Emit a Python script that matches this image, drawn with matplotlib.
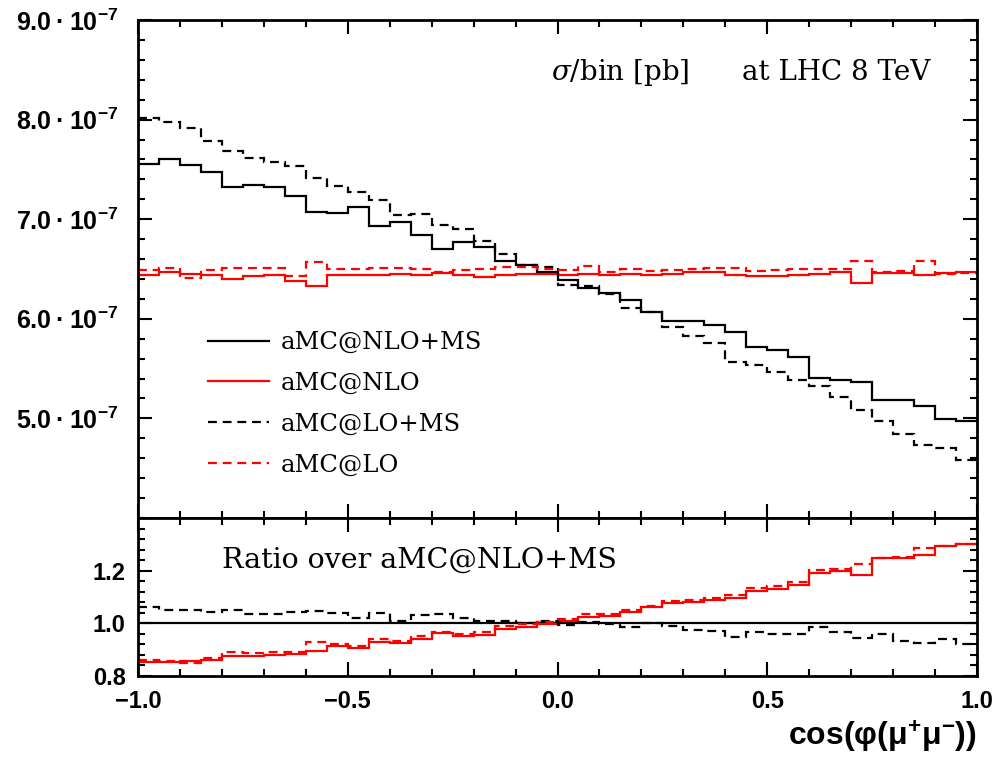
import numpy as np
import matplotlib
matplotlib.use("Agg")
import matplotlib.pyplot as plt
from matplotlib.ticker import MultipleLocator, FixedLocator

# ---- data (units of 1e-7 pb per bin) ----
bin_edges = np.linspace(-1.0, 1.0, 41)

nlo_ms = [7.55, 7.60, 7.54, 7.47, 7.32, 7.34, 7.32, 7.23, 7.07, 7.06,
          7.12, 6.93, 6.97, 6.84, 6.70, 6.77, 6.72, 6.58, 6.54, 6.47,
          6.39, 6.31, 6.26, 6.19, 6.07, 5.98, 5.98, 5.94, 5.87, 5.72,
          5.69, 5.62, 5.41, 5.39, 5.37, 5.18, 5.18, 5.12, 4.99, 4.97]

nlo = [6.44, 6.47, 6.45, 6.44, 6.40, 6.43, 6.44, 6.38, 6.33, 6.44,
       6.44, 6.44, 6.45, 6.44, 6.46, 6.44, 6.42, 6.44, 6.45, 6.45,
       6.44, 6.45, 6.44, 6.45, 6.44, 6.45, 6.47, 6.47, 6.44, 6.43,
       6.43, 6.44, 6.45, 6.47, 6.36, 6.46, 6.46, 6.44, 6.46, 6.47]

lo_ms = [8.02, 7.98, 7.92, 7.79, 7.68, 7.61, 7.57, 7.53, 7.41, 7.33,
         7.27, 7.19, 7.04, 7.05, 6.94, 6.90, 6.78, 6.65, 6.54, 6.52,
         6.34, 6.33, 6.25, 6.11, 6.07, 5.92, 5.83, 5.76, 5.57, 5.54,
         5.47, 5.39, 5.33, 5.21, 5.08, 4.97, 4.84, 4.73, 4.70, 4.58]

lo = [6.49, 6.51, 6.41, 6.49, 6.51, 6.51, 6.51, 6.43, 6.57, 6.50,
      6.50, 6.51, 6.51, 6.50, 6.47, 6.49, 6.50, 6.52, 6.52, 6.50,
      6.49, 6.53, 6.47, 6.50, 6.48, 6.49, 6.50, 6.51, 6.51, 6.48,
      6.49, 6.50, 6.50, 6.50, 6.58, 6.47, 6.48, 6.58, 6.45, 6.46]

labels = ["aMC@NLO+MS", "aMC@NLO", "aMC@LO+MS", "aMC@LO"]
scale = 1e-7

main_yticks = [5.0, 6.0, 7.0, 8.0, 9.0]
ratio_yticks = [0.8, 1.0, 1.2]
xticks = [-1.0, -0.5, 0.0, 0.5, 1.0]

# ---- figure ----
plt.rcParams['mathtext.fontset'] = 'custom'
plt.rcParams['mathtext.rm'] = 'Liberation Sans:bold'
plt.rcParams['mathtext.bf'] = 'Liberation Sans:bold'
plt.rcParams['mathtext.it'] = 'Liberation Sans:bold'

fig = plt.figure(figsize=(9.94, 7.57), dpi=100)
W, H = 994, 757
left, right = 138, 977
top, mid, bot = 20, 518, 676
ax = fig.add_axes([left / W, 1 - mid / H, (right - left) / W, (mid - top) / H])
axr = fig.add_axes([left / W, 1 - bot / H, (right - left) / W, (bot - mid) / H], sharex=ax)

edges = bin_edges
a_nlo_ms = np.array(nlo_ms) * scale
a_nlo = np.array(nlo) * scale
a_lo_ms = np.array(lo_ms) * scale
a_lo = np.array(lo) * scale

lw = 1.6
dash = (0, (4.0, 2.6))
red = '#ff0000'
series = [
    (a_nlo_ms, 'black', '-'),
    (a_nlo, red, '-'),
    (a_lo_ms, 'black', dash),
    (a_lo, red, dash),
]
for (vals, col, ls), lab in zip(series, labels):
    ax.stairs(vals, edges, color=col, linestyle=ls, linewidth=lw, label=lab, baseline=None)
    axr.stairs(vals / a_nlo_ms, edges, color=col, linestyle=ls, linewidth=lw, baseline=None)

ax.set_xlim(-1, 1)
ax.set_ylim(4.0e-7, 9.0e-7)
axr.set_ylim(0.8, 1.4)

def ylab(v):
    return '%.1f\u2009\u00b7\u200910$^{\\mathbf{-7}}$' % v

def num(v):
    return ('%.1f' % v).replace('-', '\u2212')

ax.yaxis.set_major_locator(FixedLocator([v * scale for v in main_yticks]))
ax.set_yticklabels([ylab(v) for v in main_yticks])
ax.yaxis.set_minor_locator(MultipleLocator(0.2e-7))
axr.yaxis.set_major_locator(FixedLocator(ratio_yticks))
axr.set_yticklabels([num(v) for v in ratio_yticks])
axr.yaxis.set_minor_locator(MultipleLocator(0.04))
axr.xaxis.set_major_locator(FixedLocator(xticks))
axr.set_xticklabels([num(v) if v != 0 else '0.0' for v in xticks])
axr.xaxis.set_minor_locator(MultipleLocator(0.1))
plt.setp(ax.get_xticklabels(), visible=False)

for a in (ax, axr):
    a.tick_params(which='both', direction='in', top=True, right=True, width=1.5)
    a.tick_params(which='major', length=10)
    a.tick_params(which='minor', length=5)
    for sp in a.spines.values():
        sp.set_linewidth(2.0)
    for t in a.get_yticklabels() + a.get_xticklabels():
        t.set_fontfamily(['Liberation Sans', 'DejaVu Sans'])
        t.set_fontweight('bold')
        t.set_fontsize(17)
for t in ax.get_yticklabels():
    t.set_fontsize(18)
ax.tick_params(axis='y', pad=14)
axr.tick_params(axis='y', pad=9)
axr.tick_params(axis='x', pad=10)

serif = 'DejaVu Serif'
ax.text(620 / W, 1 - 72 / H, r'$\sigma$/bin [pb]', transform=fig.transFigure,
        ha='center', va='center', fontsize=20, family=serif,
        math_fontfamily='dejavuserif')
ax.text(836 / W, 1 - 72 / H, 'at LHC 8 TeV', transform=fig.transFigure,
        ha='center', va='center', fontsize=20, family=serif)

leg = ax.legend(loc='upper left', bbox_to_anchor=(0.0834, 0.375), frameon=False,
                prop={'family': serif, 'size': 17.5}, handlelength=2.5,
                handletextpad=0.5, labelspacing=0.73, borderaxespad=0, borderpad=0)

axr.text(0.1, 0.734, 'Ratio over aMC@NLO+MS', transform=axr.transAxes,
         ha='left', va='center', fontsize=20.5, family=serif)

fig.text(right / W, 1 - 737 / H, 'cos(φ(μ$^{+}$μ$^{-}$))', ha='right', va='center',
         fontsize=23, family='Liberation Sans', fontweight='bold')

fig.savefig('out.png', dpi=100)
